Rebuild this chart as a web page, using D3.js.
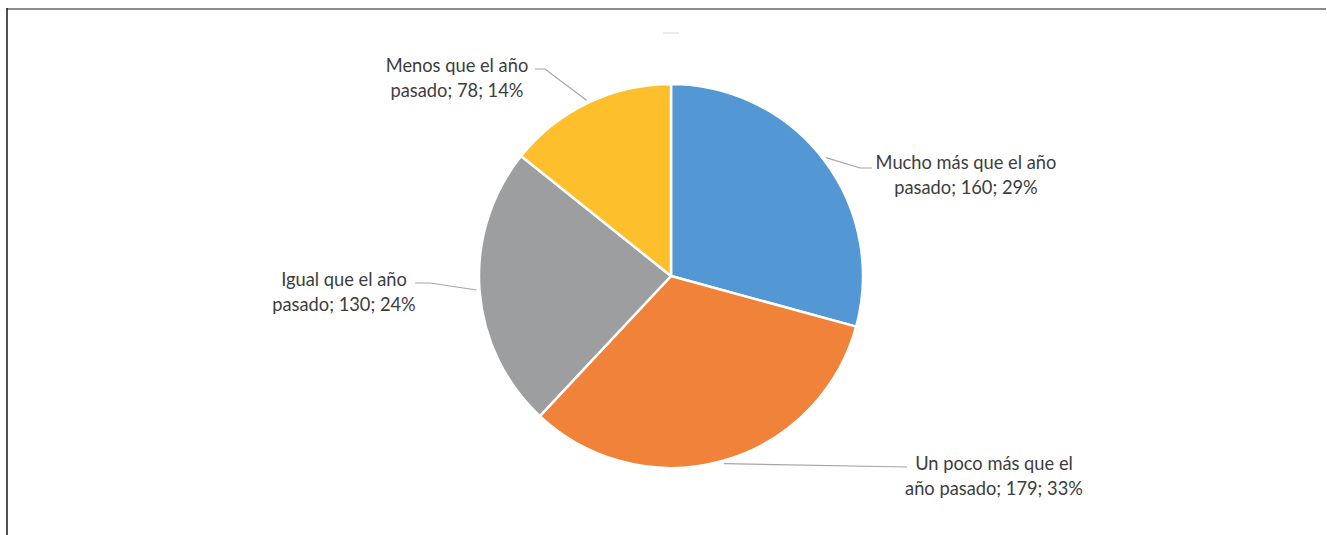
<!DOCTYPE html>
<html>
<head>
<meta charset="utf-8">
<script src="https://cdn.jsdelivr.net/npm/d3@7"></script>
<style>
  html, body { margin: 0; padding: 0; background: #fff; }
  svg { display: block; }
  .lbl { font-family: Lato, "Open Sans", "Liberation Sans", sans-serif; fill: #3d3d3d; }
</style>
</head>
<body>
<svg id="chart" width="1327" height="535"></svg>
<script>
// Respuestas por categoría (en orden horario desde las 12)
const categories = [
  "Mucho más que el año pasado",
  "Un poco más que el año pasado",
  "Igual que el año pasado",
  "Menos que el año pasado"
];
const values = [160, 179, 130, 78];
const labelLines = [
  ["Mucho más que el año", "pasado; 160; 29%"],
  ["Un poco más que el", "año pasado; 179; 33%"],
  ["Igual que el año", "pasado; 130; 24%"],
  ["Menos que el año", "pasado; 78; 14%"]
];
const colors = ["#5398d4", "#f08239", "#9c9e9f", "#fdbf2b"];

const width = 1327, height = 535;
const cx = 671, cy = 276, radius = 192;

const svg = d3.select("#chart");

// marco
svg.append("line").attr("x1", 7).attr("x2", 1326).attr("y1", 9).attr("y2", 9)
  .attr("stroke", "#8c8c8c").attr("stroke-width", 2);
svg.append("line").attr("x1", 7).attr("x2", 7).attr("y1", 8).attr("y2", height)
  .attr("stroke", "#222").attr("stroke-width", 1.6);
// resto tenue del título
svg.append("rect").attr("x", 663).attr("y", 32).attr("width", 16).attr("height", 2)
  .attr("fill", "#ececec");

const pie = d3.pie().sort(null).value(d => d)
  .startAngle(0).endAngle(2 * Math.PI);
const arcs = pie(values);
const arc = d3.arc().innerRadius(0).outerRadius(radius);

const g = svg.append("g").attr("transform", `translate(${cx},${cy})`);
g.selectAll("path.slice")
  .data(arcs)
  .join("path")
  .attr("class", "slice")
  .attr("d", arc)
  .attr("fill", (d, i) => colors[i])
  .attr("stroke", "#fff")
  .attr("stroke-width", 2.5)
  .attr("stroke-linejoin", "round");

// posición de cada etiqueta: centro del texto, línea base de la 1ª línea,
// codo y extremo de la línea guía (coordenadas de la página)
const layout = [
  { tx: 966, ty: 168.5, elbow: [860, 168], end: [872, 168] },
  { tx: 994, ty: 470,   elbow: [907, 467], end: [907, 467] },
  { tx: 344, ty: 286,   elbow: [430, 283], end: [415, 283] },
  { tx: 457, ty: 71.5,  elbow: [545, 69],  end: [535, 69] }
];

const startArc = d3.arc().innerRadius(radius + 3).outerRadius(radius + 3);

arcs.forEach((d, i) => {
  const [sx, sy] = startArc.centroid(d);
  const L = layout[i];
  svg.append("polyline")
    .attr("points", [[cx + sx, cy + sy], L.elbow, L.end].map(p => p.join(",")).join(" "))
    .attr("fill", "none")
    .attr("stroke", "#a6a6a6")
    .attr("stroke-width", 1.2);

  const t = svg.append("text")
    .attr("class", "lbl")
    .attr("text-anchor", "middle")
    .attr("font-size", 18.3);
  labelLines[i].forEach((line, k) => {
    t.append("tspan")
      .attr("x", L.tx)
      .attr("y", L.ty + k * 25)
      .text(line);
  });
});
</script>
</body>
</html>
